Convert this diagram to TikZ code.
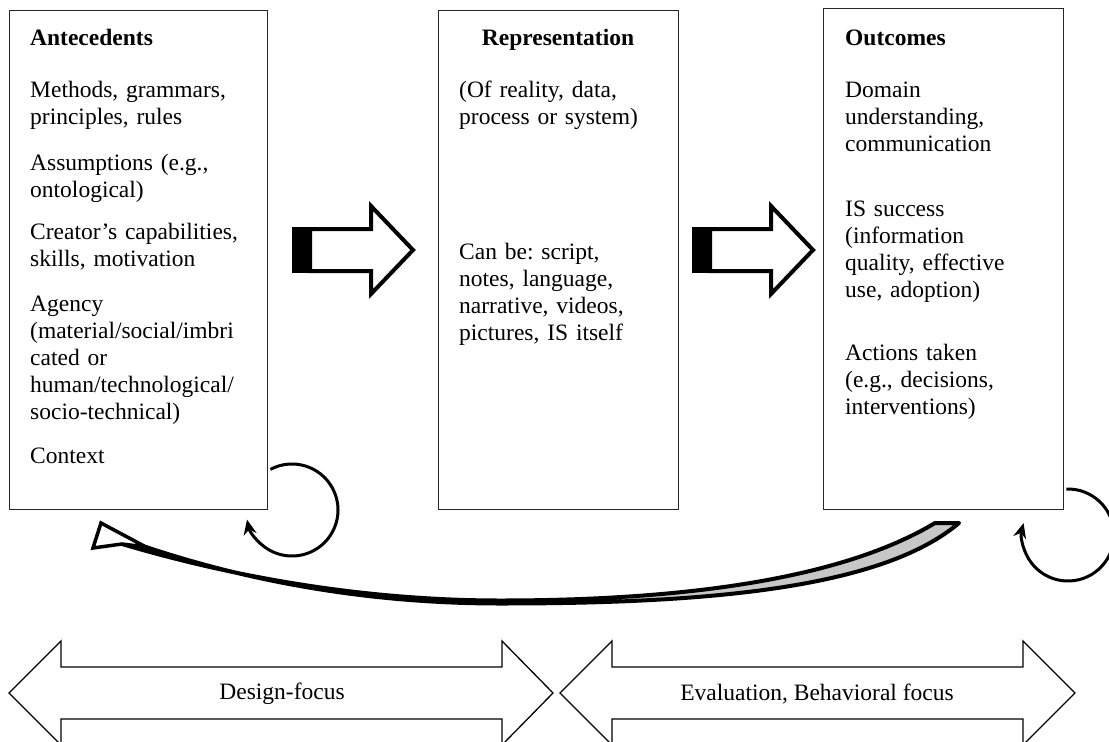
\documentclass[tikz,border=0pt]{standalone}
\usepackage{fontspec}
\setmainfont{Liberation Serif}
\usetikzlibrary{arrows.meta}
\frenchspacing
\begin{document}
\begin{tikzpicture}[x=1pt,y=-1pt,
  box/.style={draw=black!85, line width=1.3pt, anchor=north west, inner sep=0pt},
  txt/.style={anchor=base west, inner sep=0pt, align=left, text width=250pt, font=\fontsize{23.5}{27}\selectfont},
  ttl/.style={inner sep=0pt, font=\fontsize{23.5}{27}\selectfont\bfseries},
  blockarrow/.style={draw=black, line width=4pt, fill=white, line join=miter},
  looparrow/.style={line width=3pt, -{Stealth[length=15pt,width=13pt]}},
  dblarrow/.style={draw=black, line width=1.3pt, fill=white, line join=miter},
  lbl/.style={inner sep=0pt, font=\fontsize{23.5}{27}\selectfont}]
\useasboundingbox (0,0) rectangle (1109,742);
\clip (0,0) rectangle (1109,742);
\fill[white] (0,0) rectangle (1109,742);

% boxes
\node[box, minimum width=258pt, minimum height=499pt] (ante) at (9,10) {};
\node[box, minimum width=240pt, minimum height=499pt] (repr) at (438,10) {};
\node[box, minimum width=240pt, minimum height=501pt] (outc) at (823,8) {};

% antecedents
\node[ttl, anchor=base west] (anteT) at (30,45) {Antecedents};
\node[txt] (a1) at (30,97) {Methods, grammars,\\principles, rules};
\node[txt] (a2) at (30,170) {Assumptions (e.g.,\\ontological)};
\node[txt] (a3) at (30,239) {Creator’s capabilities,\\skills, motivation};
\node[txt] (a4) at (30,311) {Agency\\(material/social/imbri\\cated or\\human/technological/\\socio-technical)};
\node[txt] (a5) at (30,463) {Context};

% representation
\node[ttl, anchor=base] (reprT) at (558,45) {Representation};
\node[txt] (r1) at (459,97) {(Of reality, data,\\process or system)};
\node[txt] (r2) at (459,259) {Can be: script,\\notes, language,\\narrative, videos,\\pictures, IS itself};

% outcomes
\node[ttl, anchor=base west] (outcT) at (845,45) {Outcomes};
\node[txt] (o1) at (845,97) {Domain\\understanding,\\communication};
\node[txt] (o2) at (845,216) {IS success\\(information\\quality, effective\\use, adoption)};
\node[txt] (o3) at (845,360) {Actions taken\\(e.g., decisions,\\interventions)};

% block arrows between boxes
\foreach \dx in {0,400} {
  \begin{scope}[xshift=\dx pt]
    \fill (292,227) rectangle (310,273);
    \draw[blockarrow] (310,229) -- (371,229) -- (371,206) -- (413,250) -- (371,294) -- (371,271) -- (310,271) -- cycle;
  \end{scope}
}

% loop arrows
\coordinate (loopA) at (292,510);
\coordinate (loopB) at (1068,535);
\draw[looparrow] ([shift={(-118:46)}]loopA) arc[start angle=-118, end angle=168, radius=46];
\draw[looparrow] ([shift={(-92:46)}]loopB) arc[start angle=-92, end angle=195, radius=46];

% big curved feedback arrow
\filldraw[fill=black!22, line width=4pt, line join=round]
  (122,544) .. controls (250,582) and (380,600.5) .. (500,600.5)
  .. controls (680,600.5) and (840,580) .. (935,523)
  -- (959,523)
  .. controls (880,590) and (700,603.5) .. (500,603.5)
  .. controls (380,603.5) and (260,585) .. (146,547) -- cycle;
\filldraw[fill=white, line width=3.5pt, line join=miter]
  (101,523) -- (93,548) -- (122,544) -- (146,547) -- cycle;

% bottom double arrows
\draw[dblarrow] (9,693) -- (61,641) -- (61,667) -- (502,667) -- (502,641) -- (553,693)
  -- (502,745) -- (502,719) -- (61,719) -- (61,745) -- cycle;
\draw[dblarrow] (560,693) -- (612,641) -- (612,667) -- (1023,667) -- (1023,641) -- (1075,693)
  -- (1023,745) -- (1023,719) -- (612,719) -- (612,745) -- cycle;
\node[lbl] (design) at (282,694) {Design-focus};
\node[lbl] (evalf) at (817,694) {Evaluation, Behavioral focus};
\end{tikzpicture}
\end{document}
